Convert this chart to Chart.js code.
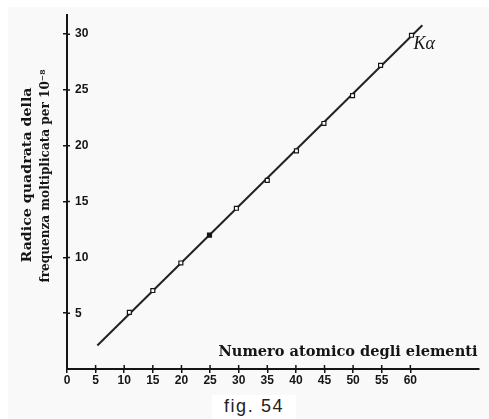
<!DOCTYPE html>
<html>
<head>
<meta charset="utf-8">
<script src="https://cdn.jsdelivr.net/npm/chart.js@4.4.1/dist/chart.umd.min.js"></script>
<style>
  html, body { margin: 0; padding: 0; background: #ffffff; }
  #page { position: relative; width: 489px; height: 419px; overflow: hidden; background: #ffffff; }
  #paper { position: absolute; left: 8px; top: 7px; right: 0; bottom: 0; background: #f9f9f9; }
  #wrap { position: absolute; left: 0; top: 0; width: 489px; height: 419px; }
  #caption { position: absolute; left: 212px; top: 395px; width: 84px; height: 24px; background: #ffffff;
             font-family: "Liberation Sans", Arial, sans-serif; font-size: 18px; letter-spacing: 1.6px;
             color: #222; text-align: center; line-height: 22px; }
</style>
</head>
<body>
<div id="page">
  <div id="paper"></div>
  <div id="wrap"><canvas id="c" width="489" height="419"></canvas></div>
  <div id="caption">fig. 54</div>
</div>
<script>
// ---- data ----
const atomicNumbers = [10.9, 15.0, 19.9, 24.9, 29.6, 35.0, 40.1, 44.9, 49.9, 54.8, 60.2];
const sqrtFrequency = [5.07, 7.03, 9.5, 12.0, 14.4, 16.9, 19.55, 22.0, 24.5, 27.2, 29.9];
const fitLineX = [5.3, 62.1];
const fitLineY = [2.1, 30.8];
const xTickValues = [0, 5, 10, 15, 20, 25, 30, 35, 40, 45, 50, 55, 60];
const yTickValues = [5, 10, 15, 20, 25, 30];
const xTitle = 'Numero atomico degli elementi';
const yTitleLines = ['Radice quadrata della', 'frequenza moltiplicata per 10\u207B\u2078'];
const seriesLabel = 'K\u03B1';

const ink = '#151515';

const textPlugin = {
  id: 'scanText',
  afterDraw(chart) {
    const ctx = chart.ctx;
    const fitText = (txt, cx, cy, width, font, rot) => {
      ctx.save();
      ctx.font = font;
      const w = ctx.measureText(txt).width;
      ctx.translate(cx, cy);
      if (rot) ctx.rotate(rot);
      ctx.scale(width / w, 1);
      ctx.textAlign = 'center';
      ctx.textBaseline = 'middle';
      ctx.fillStyle = ink;
      ctx.fillText(txt, 0, 0);
      ctx.restore();
    };
    // x-axis title (inside the plot, above the axis, right side)
    fitText(xTitle, 348, 352, 259, 'bold 14px "DejaVu Serif"', 0);
    // y-axis title, two rotated lines
    fitText(yTitleLines[0], 28, 175, 175, 'bold 13px "DejaVu Serif"', -Math.PI / 2);
    fitText(yTitleLines[1], 46, 176, 213, 'bold 12px "DejaVu Serif"', -Math.PI / 2);
    // short tick marks on the inner side of both axes (ticks cross the axis lines)
    const xs = chart.scales.x, ys = chart.scales.y;
    const area = chart.chartArea;
    ctx.save();
    ctx.strokeStyle = ink;
    ctx.lineWidth = 1.5;
    ctx.beginPath();
    xTickValues.forEach(v => {
      const p = xs.getPixelForValue(v);
      ctx.moveTo(p, area.bottom);
      ctx.lineTo(p, area.bottom - 4);
    });
    yTickValues.forEach(v => {
      const p = ys.getPixelForValue(v);
      ctx.moveTo(area.left, p);
      ctx.lineTo(area.left + 3, p);
    });
    ctx.stroke();
    ctx.restore();
    // series label near last point
    const n = atomicNumbers.length - 1;
    const px = xs.getPixelForValue(atomicNumbers[n]);
    const py = ys.getPixelForValue(sqrtFrequency[n]);
    ctx.save();
    ctx.font = 'italic 18px "Liberation Serif"';
    ctx.fillStyle = ink;
    ctx.textAlign = 'left';
    ctx.textBaseline = 'alphabetic';
    ctx.fillText(seriesLabel, px + 2, py + 14);
    ctx.restore();
  }
};

const tickFont = { family: '"Liberation Sans Narrow", "Liberation Sans", sans-serif', size: 12, weight: 'bold' };

new Chart(document.getElementById('c'), {
  type: 'scatter',
  data: {
    datasets: [
      {
        label: 'punti',
        data: atomicNumbers.map((x, i) => ({ x: x, y: sqrtFrequency[i] })),
        pointStyle: 'rect',
        pointRadius: 2.8,
        pointBorderWidth: 1.2,
        pointBorderColor: ink,
        pointBackgroundColor: (c) => (c.dataIndex === 3 ? ink : '#ffffff'),
        order: 0
      },
      {
        label: 'retta',
        data: fitLineX.map((x, i) => ({ x: x, y: fitLineY[i] })),
        showLine: true,
        borderColor: '#222',
        borderWidth: 2,
        pointRadius: 0,
        order: 1
      }
    ]
  },
  options: {
    responsive: false,
    animation: false,
    events: [],
    layout: { padding: { top: 13, right: 10, left: 0, bottom: 0 } },
    plugins: { legend: { display: false }, tooltip: { enabled: false }, title: { display: false } },
    scales: {
      x: {
        type: 'linear',
        min: 0,
        max: 72,
        afterBuildTicks: (s) => { s.ticks = xTickValues.map(v => ({ value: v })); },
        afterFit: (s) => { s.height = 50; },
        ticks: { color: ink, font: tickFont, padding: 0, maxRotation: 0, autoSkip: false },
        grid: { drawOnChartArea: false, drawTicks: true, tickLength: 4, color: ink, lineWidth: 1.5 },
        border: { color: ink, width: 2 }
      },
      y: {
        type: 'linear',
        min: 0,
        max: 31.7,
        afterBuildTicks: (s) => { s.ticks = yTickValues.map(v => ({ value: v })); },
        afterFit: (s) => { s.width = 67; },
        ticks: { color: ink, font: tickFont, mirror: true, padding: 8 },
        grid: { drawOnChartArea: false, drawTicks: true, tickLength: 4, color: ink, lineWidth: 1.5 },
        border: { color: ink, width: 2 }
      }
    }
  },
  plugins: [textPlugin]
});
</script>
</body>
</html>
